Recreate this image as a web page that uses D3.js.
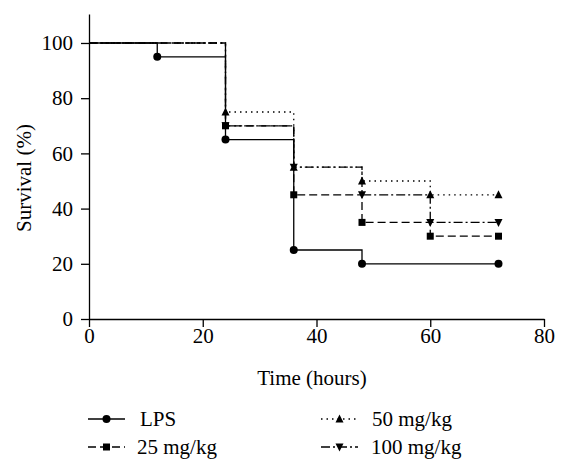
<!DOCTYPE html>
<html>
<head>
<meta charset="utf-8">
<script src="https://cdn.jsdelivr.net/npm/d3@7"></script>
<style>
  body { margin: 0; background: #fff; }
  svg { display: block; }
  svg text { font-family: "Liberation Serif", "Times New Roman", serif !important; fill: #000; }
</style>
</head>
<body>
<svg id="chart" width="568" height="472"></svg>
<script>
// ---- data ----
const seriesNames = ["LPS", "25 mg/kg", "50 mg/kg", "100 mg/kg"];
const timesLPS = [0, 12, 24, 36, 48, 72];
const survLPS  = [100, 95, 65, 25, 20, 20];
const times25  = [0, 24, 36, 48, 60, 72];
const surv25   = [100, 70, 45, 35, 30, 30];
const times50  = [0, 24, 36, 48, 60, 72];
const surv50   = [100, 75, 55, 50, 45, 45];
const times100 = [0, 24, 36, 48, 60, 72];
const surv100  = [100, 70, 55, 45, 35, 35];
const xTicks = [0, 20, 40, 60, 80];
const yTicks = [0, 20, 40, 60, 80, 100];

const svg = d3.select("#chart");
const x = d3.scaleLinear().domain([0, 80]).range([89, 544]);
const y = d3.scaleLinear().domain([0, 110.5]).range([319, 14]);

const styles = [
  { dash: null, marker: "circle" },
  { dash: "8,4", marker: "square" },
  { dash: "1.5,4", marker: "triUp" },
  { dash: "9,3,2,3", marker: "triDown" }
];
const series = [
  { t: timesLPS, v: survLPS },
  { t: times25, v: surv25 },
  { t: times50, v: surv50 },
  { t: times100, v: surv100 }
].map((s, i) => ({ name: seriesNames[i], pts: s.t.map((t, j) => [t, s.v[j]]), ...styles[i] }));

const FONT = '"Liberation Serif", "Times New Roman", serif';
const fs = 21;

// axes
const gx = svg.append("g").attr("transform", `translate(0,${y(0)})`)
  .call(d3.axisBottom(x).tickValues(xTicks).tickSize(8).tickSizeOuter(0).tickPadding(1));
const gy = svg.append("g").attr("transform", `translate(${x(0)},0)`)
  .call(d3.axisLeft(y).tickValues(yTicks).tickSize(8).tickSizeOuter(0).tickPadding(8));
[gx, gy].forEach(g => {
  g.attr("font-family", FONT).attr("font-size", fs);
  g.selectAll("path,line").attr("stroke", "#000").attr("stroke-width", 1.3);
  g.selectAll("text").style("font-family", FONT).style("font-size", fs + "px");
});

svg.append("text").attr("x", 312).attr("y", 385).attr("text-anchor", "middle")
  .style("font-family", FONT).style("font-size", fs + "px").text("Time (hours)");
svg.append("text").attr("transform", "translate(31,178) rotate(-90)").attr("text-anchor", "middle")
  .style("font-family", FONT).style("font-size", fs + "px").text("Survival (%)");

function drawMarker(g, type, cx, cy) {
  if (type === "circle") {
    g.append("circle").attr("cx", cx).attr("cy", cy).attr("r", 4).attr("fill", "#000");
  } else if (type === "square") {
    g.append("rect").attr("x", cx - 3.5).attr("y", cy - 3.5).attr("width", 7).attr("height", 7).attr("fill", "#000");
  } else if (type === "triUp") {
    g.append("path").attr("d", `M${cx},${cy - 4.5}L${cx + 4},${cy + 3.5}L${cx - 4},${cy + 3.5}Z`).attr("fill", "#000");
  } else {
    g.append("path").attr("d", `M${cx},${cy + 4.5}L${cx + 4},${cy - 3.5}L${cx - 4},${cy - 3.5}Z`).attr("fill", "#000");
  }
}

const line = d3.line().x(d => x(d[0])).y(d => y(d[1])).curve(d3.curveStepAfter);
const order = [3, 2, 1, 0];
order.forEach(i => {
  const s = series[i];
  svg.append("path").datum(s.pts).attr("d", line).attr("fill", "none")
    .attr("stroke", "#000").attr("stroke-width", 1.3)
    .attr("stroke-dasharray", s.dash);
});
order.forEach(i => {
  const s = series[i];
  const g = svg.append("g");
  s.pts.slice(1).forEach(p => drawMarker(g, s.marker, x(p[0]), y(p[1])));
});

// legend
const legendPos = [
  { lx: 88, ly: 419, tx: 140 },
  { lx: 88, ly: 447, tx: 137 },
  { lx: 321, ly: 419, tx: 372 },
  { lx: 321, ly: 447, tx: 371 }
];
series.forEach((s, i) => {
  const p = legendPos[i];
  const g = svg.append("g");
  g.append("line").attr("x1", p.lx).attr("x2", p.lx + 37).attr("y1", p.ly).attr("y2", p.ly)
    .attr("stroke", "#000").attr("stroke-width", 1.3).attr("stroke-dasharray", s.dash);
  drawMarker(g, s.marker, p.lx + 18.5, p.ly);
  g.append("text").attr("x", p.tx).attr("y", p.ly + 7)
    .style("font-family", FONT).style("font-size", fs + "px").text(s.name);
});
</script>
</body>
</html>
